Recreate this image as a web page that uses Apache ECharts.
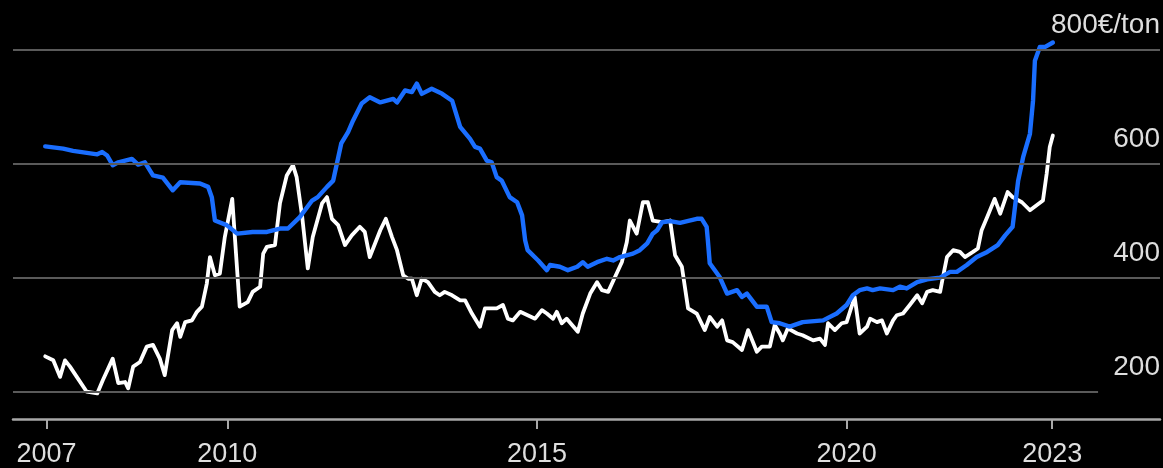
<!DOCTYPE html>
<html>
<head>
<meta charset="utf-8">
<script src="https://cdn.jsdelivr.net/npm/echarts@6/dist/echarts.min.js"></script>
<style>
  html, body { margin: 0; padding: 0; background: #000; }
  #chart { width: 1163px; height: 468px; }
</style>
</head>
<body>
<div id="chart"></div>
<script>
// ---- data (years as decimal, values in €/ton) ----
const blueDates = [2007.06,2007.35,2007.51,2007.90,2007.98,2008.06,2008.15,2008.24,2008.46,2008.56,2008.67,2008.80,2008.96,2009.12,2009.24,2009.56,2009.69,2009.75,2009.80,2009.99,2010.16,2010.41,2010.64,2010.85,2010.98,2011.17,2011.37,2011.46,2011.61,2011.71,2011.77,2011.84,2011.95,2012.03,2012.17,2012.30,2012.47,2012.68,2012.74,2012.87,2012.98,2013.06,2013.14,2013.30,2013.47,2013.63,2013.76,2013.92,2014.00,2014.08,2014.19,2014.27,2014.35,2014.43,2014.56,2014.68,2014.76,2014.81,2014.85,2015.02,2015.16,2015.21,2015.37,2015.50,2015.65,2015.74,2015.82,2015.97,2016.13,2016.23,2016.34,2016.55,2016.66,2016.78,2016.87,2016.94,2017.02,2017.15,2017.31,2017.58,2017.66,2017.74,2017.76,2017.79,2017.95,2018.07,2018.23,2018.31,2018.39,2018.55,2018.71,2018.79,2018.92,2019.08,2019.29,2019.62,2019.84,2020.00,2020.10,2020.21,2020.33,2020.42,2020.54,2020.75,2020.86,2020.97,2021.14,2021.30,2021.51,2021.67,2021.78,2021.94,2022.10,2022.27,2022.44,2022.56,2022.68,2022.77,2022.85,2022.96,2023.01,2023.04,2023.12,2023.20,2023.33];
const blueValues = [630,626,622,616,620,614,597,602,608,598,602,579,575,553,567,565,559,541,500,492,477,480,480,486,486,506,535,541,559,570,600,635,655,675,705,716,707,713,707,728,725,740,722,731,722,710,664,643,629,626,605,602,576,570,541,532,509,465,448,430,413,422,419,413,419,427,419,427,433,430,436,442,448,460,477,483,497,499,496,503,503,489,465,425,401,372,378,366,372,349,349,322,320,314,322,325,337,352,369,378,381,378,381,378,384,381,392,397,400,410,410,422,436,445,457,474,489,570,611,652,710,780,804,804,812];

const whiteDates = [2007.06,2007.19,2007.30,2007.38,2007.46,2007.57,2007.73,2007.90,2007.99,2008.15,2008.24,2008.35,2008.40,2008.48,2008.59,2008.70,2008.80,2008.91,2008.99,2009.11,2009.19,2009.24,2009.32,2009.43,2009.51,2009.59,2009.67,2009.72,2009.80,2009.88,2009.96,2010.08,2010.20,2010.33,2010.41,2010.53,2010.58,2010.64,2010.77,2010.85,2010.96,2011.06,2011.12,2011.21,2011.30,2011.38,2011.53,2011.61,2011.69,2011.79,2011.90,2012.01,2012.14,2012.22,2012.30,2012.47,2012.56,2012.66,2012.74,2012.84,2012.92,2012.98,2013.06,2013.14,2013.24,2013.35,2013.43,2013.51,2013.63,2013.76,2013.84,2013.95,2014.08,2014.16,2014.35,2014.45,2014.53,2014.61,2014.73,2014.85,2014.97,2015.08,2015.16,2015.26,2015.32,2015.40,2015.48,2015.66,2015.74,2015.86,2015.97,2016.05,2016.15,2016.26,2016.37,2016.45,2016.50,2016.61,2016.71,2016.79,2016.87,2017.02,2017.15,2017.23,2017.34,2017.44,2017.58,2017.71,2017.79,2017.91,2017.99,2018.07,2018.16,2018.31,2018.41,2018.55,2018.63,2018.76,2018.84,2018.92,2018.97,2019.05,2019.20,2019.29,2019.46,2019.57,2019.65,2019.70,2019.81,2019.92,2020.00,2020.13,2020.21,2020.33,2020.38,2020.49,2020.57,2020.65,2020.75,2020.81,2020.91,2021.02,2021.14,2021.22,2021.30,2021.39,2021.51,2021.55,2021.62,2021.72,2021.83,2021.91,2022.04,2022.12,2022.18,2022.27,2022.39,2022.48,2022.60,2022.68,2022.83,2022.96,2023.17,2023.23,2023.28,2023.33];
const whiteValues = [262,255,226,255,244,226,200,197,220,258,215,217,206,244,252,279,282,258,229,308,320,296,322,325,340,349,390,436,404,407,471,538,349,357,375,384,442,454,457,530,579,597,576,506,416,471,530,541,503,492,457,474,489,480,436,483,503,471,448,404,398,398,369,398,392,375,369,375,369,360,360,337,314,346,346,352,328,325,340,334,328,343,337,328,340,320,328,305,337,372,392,378,375,401,427,462,500,477,532,532,500,497,500,439,419,346,337,308,331,314,325,290,287,273,308,270,279,279,317,302,290,311,302,299,290,293,282,320,308,320,322,366,302,314,328,322,325,302,325,334,337,352,369,355,375,378,375,398,436,448,445,436,445,451,483,506,538,512,550,541,532,518,535,582,629,649];

const xTickValues = [2007.08, 2010, 2015, 2020, 2023.32];
const xTickLabels = ['2007', '2010', '2015', '2020', '2023'];
const yTickValues = [200, 400, 600, 800];
const yTickLabels = ['200', '400', '600', '800€/ton'];

const zip = (xs, ys) => xs.map((x, i) => [x, ys[i]]);

const chart = echarts.init(document.getElementById('chart'));
const X_MIN = 2006.54, X_MAX = 2025.06;
const gridColor = '#5a5a5a';
chart.setOption({
  backgroundColor: '#000000',
  animation: false,
  grid: { left: 13, right: 3, top: 9.4, bottom: 48.9, containLabel: false, outerBoundsMode: 'none' },
  xAxis: {
    type: 'value',
    min: X_MIN, max: X_MAX,
    axisLine: { show: true, lineStyle: { color: '#a8a8a8', width: 2.5 } },
    axisTick: { show: true, customValues: xTickValues, length: 10, lineStyle: { color: '#a8a8a8', width: 2 } },
    axisLabel: {
      customValues: xTickValues,
      color: '#dedede', fontSize: 27, fontFamily: 'Liberation Sans, Arial, sans-serif',
      margin: 22,
      formatter: (v) => {
        let best = 0;
        xTickValues.forEach((t, i) => { if (Math.abs(t - v) < Math.abs(xTickValues[best] - v)) best = i; });
        return xTickLabels[best];
      }
    },
    splitLine: { show: false }
  },
  yAxis: {
    type: 'value',
    position: 'right',
    min: 152, max: 870,
    axisLine: { show: false },
    axisTick: { show: false },
    splitLine: { show: false },
    axisLabel: {
      customValues: yTickValues,
      inside: true, margin: 0,
      color: '#dedede', fontSize: 28, fontFamily: 'Liberation Sans, Arial, sans-serif',
      verticalAlign: 'bottom', align: 'right',
      padding: [0, 0, 10, 0],
      formatter: (v) => yTickLabels[yTickValues.indexOf(v)] !== undefined ? yTickLabels[yTickValues.indexOf(v)] : ''
    }
  },
  series: [
    {
      name: 'grid', type: 'line', z: 1, silent: true,
      data: [], symbol: 'none',
      markLine: {
        silent: true, symbol: ['none', 'none'], label: { show: false },
        lineStyle: { color: gridColor, width: 2.2, type: 'solid' },
        emphasis: { disabled: true },
        data: [
          { yAxis: 800 }, { yAxis: 600 }, { yAxis: 400 },
          [ { coord: [X_MIN, 200] }, { coord: [2024.06, 200] } ]
        ]
      }
    },
    {
      name: 'White', type: 'line', z: 3,
      data: zip(whiteDates, whiteValues),
      symbol: 'none', smooth: false,
      lineStyle: { color: '#ffffff', width: 3.8, join: 'round', cap: 'round' }
    },
    {
      name: 'Blue', type: 'line', z: 4,
      data: zip(blueDates, blueValues),
      symbol: 'none', smooth: false,
      lineStyle: { color: '#1a6eff', width: 4.4, join: 'round', cap: 'round' }
    }
  ]
});
</script>
</body>
</html>
